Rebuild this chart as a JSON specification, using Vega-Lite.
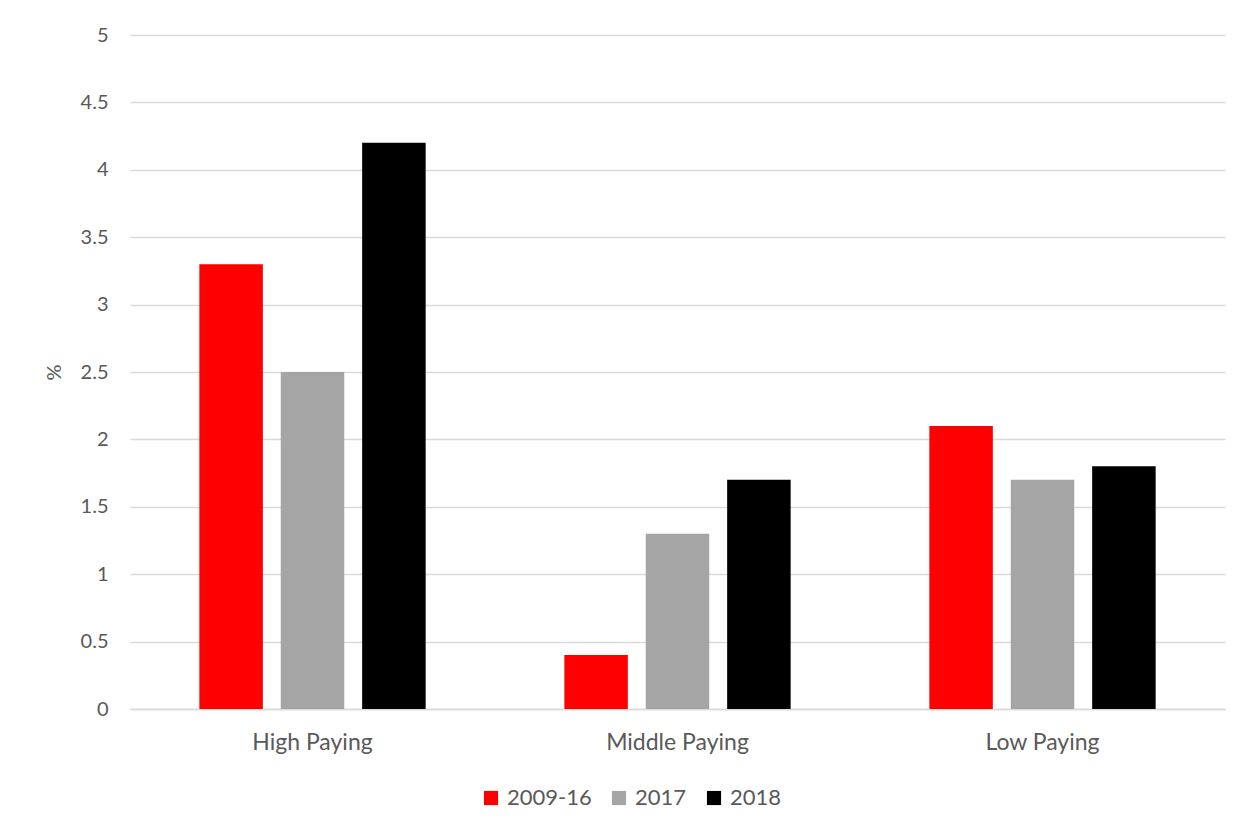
{
  "$schema": "https://vega.github.io/schema/vega-lite/v6.json",
  "width": 1095,
  "height": 674,
  "autosize": {"type": "none"},
  "padding": {"left": 130, "top": 35, "right": 27, "bottom": 126},
  "background": "white",
  "data": {
    "values": [
      {"group": "High Paying", "series": "2009-16", "value": 3.3},
      {"group": "High Paying", "series": "2017", "value": 2.5},
      {"group": "High Paying", "series": "2018", "value": 4.2},
      {"group": "Middle Paying", "series": "2009-16", "value": 0.4},
      {"group": "Middle Paying", "series": "2017", "value": 1.3},
      {"group": "Middle Paying", "series": "2018", "value": 1.7},
      {"group": "Low Paying", "series": "2009-16", "value": 2.1},
      {"group": "Low Paying", "series": "2017", "value": 1.7},
      {"group": "Low Paying", "series": "2018", "value": 1.8}
    ]
  },
  "mark": {"type": "bar"},
  "encoding": {
    "x": {
      "field": "group",
      "type": "nominal",
      "sort": ["High Paying", "Middle Paying", "Low Paying"],
      "scale": {"paddingInner": 0.38, "paddingOuter": 0.19},
      "axis": {
        "title": null,
        "labelAngle": 0,
        "labelFont": "Lato",
        "labelFontSize": 23,
        "labelColor": "#595959",
        "labelPadding": 22,
        "ticks": false,
        "domainColor": "#d9d9d9",
        "domainWidth": 1.5
      }
    },
    "xOffset": {
      "field": "series",
      "type": "nominal",
      "sort": ["2009-16", "2017", "2018"],
      "scale": {"paddingInner": 0.22, "paddingOuter": 0}
    },
    "y": {
      "field": "value",
      "type": "quantitative",
      "scale": {"domain": [0, 5]},
      "axis": {
        "title": "%",
        "titleFont": "Lato",
        "titleFontSize": 20,
        "titleFontWeight": "normal",
        "titleColor": "#595959",
        "titlePadding": 16,
        "values": [0, 0.5, 1, 1.5, 2, 2.5, 3, 3.5, 4, 4.5, 5],
        "format": "~g",
        "labelFont": "Lato",
        "labelFontSize": 20,
        "labelColor": "#595959",
        "labelPadding": 22,
        "ticks": false,
        "domain": false,
        "gridColor": "#d9d9d9",
        "gridWidth": 1.5
      }
    },
    "color": {
      "field": "series",
      "type": "nominal",
      "sort": ["2009-16", "2017", "2018"],
      "scale": {"domain": ["2009-16", "2017", "2018"], "range": ["#ff0000", "#a5a5a5", "#000000"]},
      "legend": {
        "title": null,
        "orient": "none",
        "legendX": 350,
        "legendY": 752,
        "direction": "horizontal",
        "symbolType": "square",
        "symbolSize": 200,
        "symbolStrokeWidth": 0,
        "labelFont": "Lato",
        "labelFontSize": 22,
        "labelColor": "#595959",
        "columnPadding": 16,
        "labelOffset": 5
      }
    }
  },
  "config": {"view": {"stroke": null}}
}
